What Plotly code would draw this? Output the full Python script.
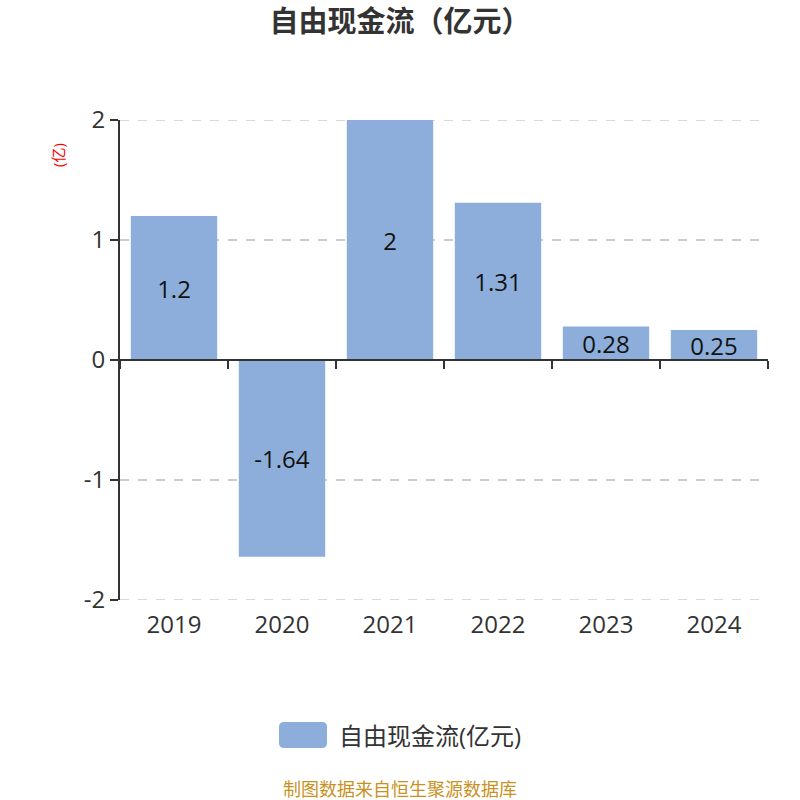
import plotly.graph_objects as go

years = ["2019", "2020", "2021", "2022", "2023", "2024"]
fcf = [1.2, -1.64, 2, 1.31, 0.28, 0.25]
labels = ["1.2", "-1.64", "2", "1.31", "0.28", "0.25"]
series_name = "自由现金流(亿元)"

BAR = "#8DAEDA"
FONT = "Open Sans, Noto Sans CJK SC, sans-serif"

fig = go.Figure()
fig.add_trace(go.Bar(
    x=years, y=fcf, text=labels, name=series_name,
    marker=dict(color=BAR, line=dict(width=0)),
    width=0.8,
    textposition="inside", insidetextanchor="middle", constraintext="none",
    textfont=dict(size=24, color="#111"),
    showlegend=False,
))
# helper trace so the zero-line axis with boundary ticks gets drawn
fig.add_trace(go.Bar(
    x=years, y=fcf, xaxis="x2", opacity=0, hoverinfo="skip",
    showlegend=False, width=0.8,
))


def rounded_box(x0, y0, x1, y1, rx, ry):
    return (f"M{x0+rx},{y0} L{x1-rx},{y0} Q{x1},{y0} {x1},{y0+ry} "
            f"L{x1},{y1-ry} Q{x1},{y1} {x1-rx},{y1} L{x0+rx},{y1} "
            f"Q{x0},{y1} {x0},{y1-ry} L{x0},{y0+ry} Q{x0},{y0} {x0+rx},{y0} Z")


W, H = 648.0, 480.0
px = lambda v: (v - 120) / W
py = lambda v: (600 - v) / H

# dashed grid lines at the range ends (plotly skips those)
edge_grid = [dict(type="line", xref="paper", yref="y", x0=0, x1=1, y0=v, y1=v,
                  line=dict(color="#ccc", width=1.5, dash="dash"), layer="below")
             for v in (-2, 2)]

fig.update_layout(
    width=800, height=800,
    margin=dict(l=120, r=32, t=120, b=200, autoexpand=False),
    paper_bgcolor="white", plot_bgcolor="white",
    font=dict(family=FONT, color="#333"),
    title=dict(text="<b>自由现金流（亿元）</b>", x=0.5, xanchor="center",
               y=1 - 22 / 800, yanchor="middle", font=dict(size=29, color="#333")),
    xaxis=dict(
        type="category", range=[-0.5, 5.5], automargin=False,
        showline=False, showgrid=False, zeroline=False,
        ticks="outside", ticklen=3, tickcolor="rgba(0,0,0,0)",
        tickfont=dict(size=24, color="#333"),
    ),
    xaxis2=dict(
        type="category", range=[-0.5, 5.5], overlaying="x", automargin=False,
        anchor="free", position=0.5, side="bottom",
        showline=True, linecolor="#333", linewidth=2,
        ticks="outside", tickson="boundaries", ticklen=8,
        tickcolor="#333", tickwidth=2,
        showticklabels=False, showgrid=False, zeroline=False,
    ),
    yaxis=dict(
        range=[-2, 2], automargin=False,
        tickvals=[-2, -1, 0, 1, 2], ticktext=["-2", "-1", "0", "1", "2"],
        showline=True, linecolor="#333", linewidth=2,
        ticks="outside", ticklen=8, tickcolor="#333", tickwidth=2,
        showgrid=True, gridcolor="#ccc", griddash="dash", gridwidth=1.5,
        zeroline=False,
        tickfont=dict(size=24, color="#333"),
    ),
    shapes=edge_grid + [dict(
        type="path", xref="paper", yref="paper",
        path=rounded_box(px(279), py(748), px(327), py(722), 5 / W, 5 / H),
        fillcolor=BAR, line=dict(width=0),
    )],
    annotations=[
        dict(text="(亿)", xref="paper", yref="paper", x=px(58), y=py(155),
             xanchor="center", yanchor="middle",
             showarrow=False, textangle=-90, font=dict(size=15, color="red")),
        dict(text=series_name, xref="paper", yref="paper", x=px(337), y=py(735),
             xanchor="left", yanchor="middle", showarrow=False,
             font=dict(size=24, color="#333")),
        dict(text="制图数据来自恒生聚源数据库", xref="paper", yref="paper",
             x=px(400), y=py(789), xanchor="center", yanchor="middle",
             showarrow=False, font=dict(size=18, color="#C8921E")),
    ],
)

fig.write_html("out.html", config={"displayModeBar": False},
               post_script="document.body.style.margin='0';")
